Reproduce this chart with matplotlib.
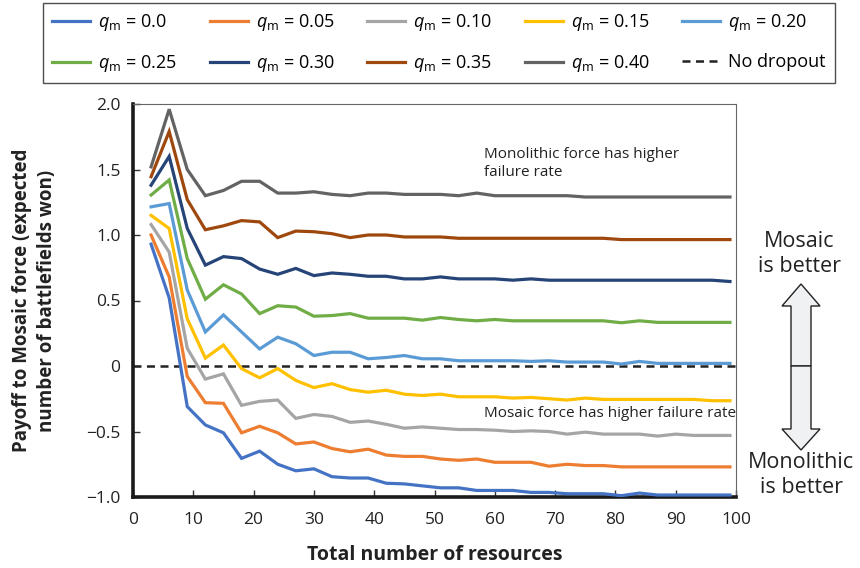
import matplotlib
matplotlib.use("Agg")
import matplotlib.pyplot as plt
from matplotlib.patches import Polygon

plt.rcParams['font.family'] = ['Open Sans', 'DejaVu Sans']
plt.rcParams['mathtext.fontset'] = 'custom'
plt.rcParams['mathtext.rm'] = 'Open Sans'
plt.rcParams['mathtext.it'] = 'Open Sans:italic'

resources = [3, 6, 9, 12, 15, 18, 21, 24, 27, 30, 33, 36, 39, 42, 45, 48, 51,
             54, 57, 60, 63, 66, 69, 72, 75, 78, 81, 84, 87, 90, 93, 96, 99]

q_labels = ["0.0", "0.05", "0.10", "0.15", "0.20", "0.25", "0.30", "0.35", "0.40"]

q00 = [0.93, 0.52, -0.31, -0.45, -0.51, -0.705, -0.65, -0.75, -0.80, -0.785, -0.845,
       -0.855, -0.855, -0.895, -0.90, -0.915, -0.93, -0.93, -0.95, -0.95, -0.95, -0.965,
       -0.965, -0.975, -0.975, -0.975, -0.99, -0.97, -0.985, -0.985, -0.985, -0.985, -0.985]
q05 = [1.0, 0.68, -0.08, -0.28, -0.285, -0.51, -0.46, -0.51, -0.595, -0.58, -0.63,
       -0.655, -0.635, -0.68, -0.69, -0.69, -0.71, -0.72, -0.71, -0.735, -0.735, -0.735,
       -0.765, -0.75, -0.76, -0.76, -0.77, -0.77, -0.77, -0.77, -0.77, -0.77, -0.77]
q10 = [1.08, 0.87, 0.135, -0.10, -0.06, -0.30, -0.27, -0.26, -0.40, -0.37, -0.385,
       -0.43, -0.42, -0.445, -0.475, -0.465, -0.475, -0.485, -0.485, -0.49, -0.50, -0.495,
       -0.50, -0.52, -0.505, -0.52, -0.52, -0.52, -0.535, -0.52, -0.53, -0.53, -0.53]
q15 = [1.15, 1.05, 0.36, 0.06, 0.16, -0.02, -0.09, -0.02, -0.11, -0.165, -0.135,
       -0.18, -0.20, -0.185, -0.215, -0.225, -0.215, -0.235, -0.235, -0.235, -0.245, -0.24,
       -0.25, -0.26, -0.245, -0.255, -0.255, -0.255, -0.255, -0.255, -0.255, -0.265, -0.265]
q20 = [1.215, 1.24, 0.58, 0.26, 0.39, 0.26, 0.13, 0.22, 0.17, 0.08, 0.105,
       0.105, 0.055, 0.065, 0.08, 0.055, 0.055, 0.04, 0.04, 0.04, 0.04, 0.035,
       0.04, 0.03, 0.03, 0.03, 0.015, 0.035, 0.02, 0.02, 0.02, 0.02, 0.02]
q25 = [1.305, 1.42, 0.82, 0.51, 0.62, 0.55, 0.40, 0.46, 0.45, 0.38, 0.385,
       0.40, 0.365, 0.365, 0.365, 0.35, 0.37, 0.355, 0.345, 0.355, 0.345, 0.345,
       0.345, 0.345, 0.345, 0.345, 0.33, 0.345, 0.333, 0.333, 0.333, 0.333, 0.333]
q30 = [1.38, 1.60, 1.05, 0.77, 0.835, 0.82, 0.74, 0.70, 0.745, 0.69, 0.71,
       0.70, 0.685, 0.685, 0.665, 0.665, 0.68, 0.665, 0.665, 0.665, 0.655, 0.665,
       0.655, 0.655, 0.655, 0.655, 0.655, 0.655, 0.655, 0.655, 0.655, 0.655, 0.645]
q35 = [1.445, 1.79, 1.27, 1.04, 1.07, 1.11, 1.10, 0.98, 1.03, 1.025, 1.01,
       0.98, 1.00, 1.00, 0.985, 0.985, 0.985, 0.975, 0.975, 0.975, 0.975, 0.975,
       0.975, 0.975, 0.975, 0.975, 0.965, 0.965, 0.965, 0.965, 0.965, 0.965, 0.965]
q40 = [1.52, 1.96, 1.50, 1.30, 1.34, 1.41, 1.41, 1.32, 1.32, 1.33, 1.31,
       1.30, 1.32, 1.32, 1.31, 1.31, 1.31, 1.30, 1.32, 1.30, 1.30, 1.30,
       1.30, 1.30, 1.29, 1.29, 1.29, 1.29, 1.29, 1.29, 1.29, 1.29, 1.29]

series = [q00, q05, q10, q15, q20, q25, q30, q35, q40]
colors = ["#4472C4", "#ED7D31", "#A5A5A5", "#FFC000", "#5B9BD5",
          "#70AD47", "#264478", "#9E480E", "#636363"]

y_ticks = [-1.0, -0.5, 0, 0.5, 1.0, 1.5, 2.0]
y_tick_labels = ["\u22121.0", "\u22120.5", "0", "0.5", "1.0", "1.5", "2.0"]
x_ticks = [0, 10, 20, 30, 40, 50, 60, 70, 80, 90, 100]

W, H = 860, 568
fig = plt.figure(figsize=(W / 100, H / 100), dpi=100)
ax = fig.add_axes([133 / W, 1 - 497 / H, 603 / W, 393 / H])

handles = []
for vals, c, lab in zip(series, colors, q_labels):
    h, = ax.plot(resources, vals, color=c, lw=2.3, solid_joinstyle='miter',
                 label=r'$q_{\mathrm{m}}$' + ' = ' + lab, zorder=3)
    handles.append(h)
hd, = ax.plot([0, 100], [0, 0], color='#222222', lw=1.8, ls=(0, (3.2, 2.2)),
              label='No dropout', zorder=2)
handles.append(hd)

ax.set_xlim(0, 100)
ax.set_ylim(-1.0, 2.0)
ax.set_xticks(x_ticks)
ax.set_yticks(y_ticks)
ax.set_yticklabels(y_tick_labels)
ax.tick_params(direction='in', length=5, width=1, labelsize=12.5, color='#333333',
               labelcolor='#222222')
ax.tick_params(axis='x', pad=11)
ax.tick_params(axis='y', pad=9)

for s in ['left', 'bottom']:
    ax.spines[s].set_linewidth(2.6)
    ax.spines[s].set_color('#1a1a1a')
for s in ['top', 'right']:
    ax.spines[s].set_linewidth(0.8)
    ax.spines[s].set_color('#666666')

ax.set_xlabel('Total number of resources', fontsize=14, fontweight='bold', labelpad=12,
              color='#222222')
ax.set_ylabel('Payoff to Mosaic force (expected\nnumber of battlefields won)',
              fontsize=13.5, fontweight='bold', labelpad=21, linespacing=1.3,
              color='#222222')

ax.text(58.2, 1.675, 'Monolithic force has higher\nfailure rate', fontsize=11,
        color='#222222', va='top', ha='left', linespacing=1.3)
ax.text(58.2, -0.36, 'Mosaic force has higher failure rate', fontsize=11,
        color='#222222', va='center', ha='left')

# right-side guidance
fig.text(799 / W, 1 - 254 / H, 'Mosaic\nis better', fontsize=15.5, ha='center',
         va='center', color='#222222', linespacing=1.3)
fig.text(801 / W, 1 - 475 / H, 'Monolithic\nis better', fontsize=15.5, ha='center',
         va='center', color='#222222', linespacing=1.2)

def fp(pts):
    return [(x / W, 1 - y / H) for x, y in pts]

up = fp([(791, 366), (791, 306), (782, 306), (801, 284), (820, 306), (811, 306), (811, 366)])
down = fp([(791, 366), (791, 429), (782, 429), (801, 450), (820, 429), (811, 429), (811, 366)])
for pts in (up, down):
    fig.add_artist(Polygon(pts, closed=True, facecolor='#f0f1f3', edgecolor='#222222',
                           lw=1.0, transform=fig.transFigure))

# legend, row-major order
order = [0, 5, 1, 6, 2, 7, 3, 8, 4, 9]
leg = fig.legend([handles[i] for i in order], [handles[i].get_label() for i in order],
                 ncol=5, loc='upper center', bbox_to_anchor=(0.5105, 0.994),
                 borderaxespad=0.0,
                 fontsize=13, frameon=True, fancybox=False, edgecolor='#222222',
                 handlelength=2.1, handletextpad=0.45, columnspacing=1.8,
                 borderpad=0.5, labelspacing=1.1)
leg.get_frame().set_linewidth(1.0)

fig.savefig('out.png', dpi=100)
